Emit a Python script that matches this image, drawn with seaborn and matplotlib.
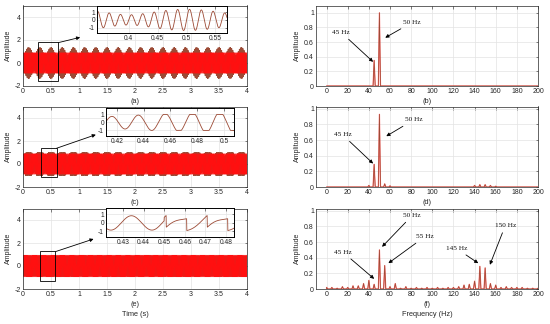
import numpy as np
import matplotlib
matplotlib.use("Agg")
import matplotlib.pyplot as plt
import seaborn as sns
from matplotlib.patches import Rectangle

# ---- time-domain signals: components ----
FS = 10000
T_END = 4.0

A_FREQS = [50, 45]
A_AMPS = [1.0, 0.35]
A_PHASES = [0.0, 1.0]          # in units of pi

C_FREQS = [50, 45]
C_AMPS = [1.0, 0.3]
C_PHASES = [0.8, 1.8]
C_CLIP = 1.0

E_FREQ = 50
E_AMP = 0.85
E_PHASE = -0.9
E_SAW_FREQ = 100
E_SAW_AMP = 0.7
E_SAW_START = 0.451
E_DIST_START = 0.45
E_DIST_LEN = 0.1
E_DIST_PERIOD = 0.2

REF_FREQ = 50
REF_AMPS = [0.9, 0.9, 0.95]

# ---- spectra: peak frequency (Hz) / amplitude ----
B_FREQS = [45, 50]
B_AMPS = [0.35, 1.0]

D_FREQS = [40, 45, 50, 55, 60, 140, 145, 150, 155, 160]
D_AMPS = [0.02, 0.29, 0.93, 0.04, 0.015, 0.02, 0.03, 0.03, 0.02, 0.01]

F_FREQS = [0, 5, 10, 15, 20, 25, 30, 35, 40, 45, 50, 55, 60, 65, 70, 75, 80,
           85, 90, 95, 100, 105, 110, 115, 120, 125, 130, 135, 140, 145, 150,
           155, 160, 165, 170, 175, 180, 185, 190, 195, 200]
F_AMPS = [0.02, 0.02, 0.01, 0.03, 0.02, 0.04, 0.04, 0.07, 0.11, 0.06, 0.50,
          0.30, 0.03, 0.07, 0.01, 0.03, 0.01, 0.02, 0.01, 0.02, 0.01, 0.02,
          0.01, 0.02, 0.02, 0.03, 0.05, 0.06, 0.10, 0.29, 0.27, 0.07, 0.05,
          0.02, 0.03, 0.02, 0.02, 0.02, 0.01, 0.01, 0.01]

# ---- annotations: (text, arrow head (Hz, amp), text position) ----
B_NOTES = [("45 Hz", (44.0, 0.33), (14, 0.73)),
           ("50 Hz", (55.5, 0.66), (81, 0.87))]
D_NOTES = [("45 Hz", (44.0, 0.30), (15, 0.67)),
           ("50 Hz", (56.5, 0.65), (82.5, 0.86))]
F_NOTES = [("50 Hz", (52.5, 0.54), (81, 0.94)),
           ("55 Hz", (58.5, 0.33), (93, 0.67)),
           ("45 Hz", (45.0, 0.13), (15.6, 0.47)),
           ("145 Hz", (143.5, 0.33), (122.7, 0.52)),
           ("150 Hz", (154.5, 0.31), (169, 0.81))]

# zoom boxes on the time plots (t0, y0, width, height) and inset settings
BOX_A = (0.26, -1.55, 0.36, 3.35)
BOX_C = (0.32, -1.16, 0.28, 2.53)
BOX_E = (0.30, -1.28, 0.28, 2.58)
INSET_A_XLIM = (0.345, 0.57)
INSET_A_TICKS = [0.4, 0.45, 0.5, 0.55]
INSET_C_XLIM = (0.412, 0.5075)
INSET_C_TICKS = [0.42, 0.44, 0.46, 0.48, 0.5]
INSET_E_XLIM = (0.4216, 0.484)
INSET_E_TICKS = [0.43, 0.44, 0.45, 0.46, 0.47, 0.48]

SIG_COLOR = "#9c4a35"
RED = "#ff1010"

sns.set_theme(style="whitegrid")
plt.rcParams.update({
    "font.family": ["Liberation Sans", "DejaVu Sans"],
    "font.size": 5,
    "axes.unicode_minus": False,
    "axes.edgecolor": "#262626",
    "axes.linewidth": 0.5,
    "axes.labelsize": 5.3,
    "axes.labelcolor": "#262626",
    "xtick.labelsize": 5,
    "ytick.labelsize": 5,
    "xtick.color": "#262626",
    "ytick.color": "#262626",
    "xtick.direction": "in",
    "ytick.direction": "in",
    "xtick.major.size": 1.8,
    "ytick.major.size": 1.8,
    "xtick.major.width": 0.4,
    "ytick.major.width": 0.4,
    "xtick.major.pad": 1.5,
    "ytick.major.pad": 1.5,
    "grid.color": "#e3e3e3",
    "grid.linewidth": 0.5,
})

t = np.arange(0, T_END, 1 / FS)


def tone_sum(freqs, amps, phases):
    s = np.zeros_like(t)
    for f, a, p in zip(freqs, amps, phases):
        s += a * np.sin(2 * np.pi * f * t + p * np.pi)
    return s


sig_a = tone_sum(A_FREQS, A_AMPS, A_PHASES)
sig_c = np.clip(tone_sum(C_FREQS, C_AMPS, C_PHASES), -C_CLIP, C_CLIP)
base_e = E_AMP * np.sin(2 * np.pi * E_FREQ * t + E_PHASE * np.pi)
saw = 2 * (((t - E_SAW_START) * E_SAW_FREQ) % 1.0) - 1
dist = ((t - E_DIST_START) % E_DIST_PERIOD) < E_DIST_LEN
sig_e = np.where(dist, 0.4 * base_e + E_SAW_AMP * saw, base_e)


def spectrum_line(freqs, amps):
    xs, ys = [0.0], [0.0]
    for f, a in zip(freqs, amps):
        xs += [max(f - 1, 0), f, min(f + 1, 200)]
        ys += [0, a, 0]
    xs.append(200.0)
    ys.append(0.0)
    return np.array(xs), np.array(ys)


fig = plt.figure(figsize=(5.5, 3.24), dpi=100)
W, H = 550.0, 324.0
tops = [5.5, 106.5, 208.5]
ph = 80.5


def axes_px(x0, x1, top, bottom):
    return fig.add_axes([x0 / W, 1 - bottom / H, (x1 - x0) / W, (bottom - top) / H])


def style(ax):
    ax.tick_params(top=True, right=True, which="both")
    for sp in ax.spines.values():
        sp.set_visible(True)
        sp.set_color("#262626")
        sp.set_linewidth(0.5)
    ax.grid(True)


time_sigs = [sig_a, sig_c, sig_e]
boxes = [BOX_A, BOX_C, BOX_E]
letters_l = ["(a)", "(c)", "(e)"]
inset_px = [(97, 227, 5.7, 33.3), (106, 234, 108, 136), (106, 234, 207.7, 237.3)]
inset_xlims = [INSET_A_XLIM, INSET_C_XLIM, INSET_E_XLIM]
inset_ticks = [INSET_A_TICKS, INSET_C_TICKS, INSET_E_TICKS]
arrow_tails = [(0.63, 1.77), (0.60, 1.37), (0.58, 1.25)]
arrow_heads = [(1.02, 2.23), (1.30, 2.55), (1.26, 2.35)]

for i in range(3):
    ax = axes_px(23, 247, tops[i], tops[i] + ph)
    ref = REF_AMPS[i] * np.sin(2 * np.pi * REF_FREQ * t)
    ax.plot(t, time_sigs[i], color=SIG_COLOR, lw=0.7)
    ax.plot(t, ref, color=RED, lw=0.4)
    ax.set_xlim(0, 4)
    ax.set_ylim(-2, 5)
    ax.set_xticks(np.arange(0, 4.01, 0.5))
    ax.set_xticklabels(["0", "0.5", "1", "1.5", "2", "2.5", "3", "3.5", "4"])
    ax.set_yticks([-2, 0, 2, 4])
    ax.set_ylabel("Amplitude", labelpad=2, fontsize=5)
    if i == 2:
        ax.set_xlabel("(e)\nTime (s)", labelpad=2, linespacing=1.7)
    else:
        ax.set_xlabel(letters_l[i], labelpad=2)
    style(ax)
    b = boxes[i]
    ax.add_patch(Rectangle((b[0], b[1]), b[2], b[3], fill=False,
                           edgecolor="black", lw=0.6, zorder=5))
    ax.annotate("", xy=arrow_heads[i], xytext=arrow_tails[i],
                arrowprops=dict(arrowstyle="-|>,head_length=0.4,head_width=0.2",
                                color="black", lw=0.6, shrinkA=0, shrinkB=0),
                zorder=6)

    x0, x1, y0, y1 = inset_px[i]
    ins = axes_px(x0, x1, y0, y1)
    ins.set_facecolor("white")
    m = (t >= inset_xlims[i][0] - 0.01) & (t <= inset_xlims[i][1] + 0.01)
    sns.lineplot(x=t[m], y=time_sigs[i][m], ax=ins, color=SIG_COLOR, lw=0.6,
                 estimator=None, sort=False)
    ins.set_xlim(*inset_xlims[i])
    ins.set_ylim(-1.7, 1.8)
    ins.set_xticks(inset_ticks[i])
    ins.set_xticklabels([f"{v:g}" for v in inset_ticks[i]])
    ins.set_yticks([-1, 0, 1])
    ins.tick_params(labelsize=4.8)
    style(ins)
    for sp in ins.spines.values():
        sp.set_linewidth(0.7)
        sp.set_color("black")

spectra = [(B_FREQS, B_AMPS), (D_FREQS, D_AMPS), (F_FREQS, F_AMPS)]
notes = [B_NOTES, D_NOTES, F_NOTES]
letters_r = ["(b)", "(d)", "(f)"]
ymax = [1.1, 1.03, 1.03]

for i in range(3):
    ax = axes_px(316, 538, tops[i], tops[i] + ph)
    xs, ys = spectrum_line(*spectra[i])
    sns.lineplot(x=xs, y=ys, ax=ax, color=RED, lw=0.9, alpha=0.6,
                 estimator=None, sort=False)
    sns.lineplot(x=xs, y=ys, ax=ax, color=SIG_COLOR, lw=0.5,
                 estimator=None, sort=False)
    ax.set_xlim(-10, 200)
    ax.set_ylim(0, ymax[i])
    ax.set_xticks(np.arange(0, 201, 20))
    ax.set_yticks([0, 0.2, 0.4, 0.6, 0.8, 1])
    ax.set_yticklabels(["0", "0.2", "0.4", "0.6", "0.8", "1"])
    ax.set_ylabel("Amplitude", labelpad=2, fontsize=5)
    if i == 2:
        ax.set_xlabel("(f)\nFrequency (Hz)", labelpad=2, linespacing=1.7)
    else:
        ax.set_xlabel(letters_r[i], labelpad=2)
    style(ax)
    for txt, head, pos in notes[i]:
        ax.annotate(txt, xy=head, xytext=pos, ha="center", va="center",
                    fontsize=5.2, family=["Liberation Serif", "DejaVu Serif"],
                    color="#111111",
                    arrowprops=dict(arrowstyle="-|>,head_length=0.4,head_width=0.2",
                                    color="black", lw=0.6, shrinkA=1, shrinkB=0))

fig.savefig("out.png", dpi=100)
